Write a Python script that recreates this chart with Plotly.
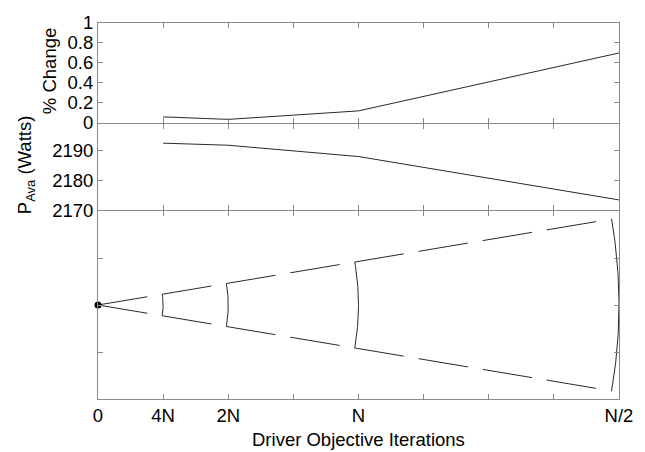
import numpy as np
import plotly.graph_objects as go

# Iteration checkpoints on the shared x axis (0 .. 8 tick slots)
tick_pos = [0, 1, 2, 3, 4, 5, 6, 7, 8]
tick_text = ["0", "4N", "2N", "", "N", "", "", "", "N/2"]

iter_pos = [1, 2, 4, 8]            # 4N, 2N, N, N/2
pct_change = [0.06, 0.035, 0.12, 0.70]
p_ava = [2192.5, 2191.8, 2188.0, 2173.4]

# Search-cone sketch: arc radii follow the iteration checkpoints
cone_radii = [1, 2, 4, 8]
cone_half_angle_deg = 9.7

W, H = 645, 452
M = dict(l=98, r=26, t=15, b=53)
plot_w = W - M["l"] - M["r"]
plot_h = H - M["t"] - M["b"]          # 384 px
h_bot, h_mid = 193, 89                # panel heights in px
gap = 1.0 / plot_h                    # lets neighbouring frame lines share one pixel row
dom_bot = [0.0, h_bot / plot_h - gap]
dom_mid = [h_bot / plot_h, (h_bot + h_mid) / plot_h - gap]
dom_top = [(h_bot + h_mid) / plot_h, 1.0]
bot_yrange = [-2, 2]

# keep the cone circular on screen
px_x = plot_w / 8.0
px_y = (dom_bot[1] - dom_bot[0]) * plot_h / (bot_yrange[1] - bot_yrange[0])
k = px_x / px_y

FONT = "Liberation Sans, Arial, sans-serif"
AX = "#8a8a8a"
LINE = "#2a2a2a"

fig = go.Figure()

fig.add_trace(go.Scatter(x=iter_pos, y=pct_change, mode="lines",
                         line=dict(color=LINE, width=1), xaxis="x3", yaxis="y3"))
fig.add_trace(go.Scatter(x=iter_pos, y=p_ava, mode="lines",
                         line=dict(color=LINE, width=1), xaxis="x2", yaxis="y2"))

th = np.deg2rad(cone_half_angle_deg)
r_max = max(cone_radii)
for s in (1, -1):
    fig.add_trace(go.Scatter(x=[0, r_max * np.cos(th)], y=[0, s * r_max * np.sin(th) * k],
                             mode="lines", line=dict(color=LINE, width=1, dash="50px,15px"),
                             xaxis="x", yaxis="y"))
phi = np.linspace(-th, th, 60)
for r in cone_radii:
    fig.add_trace(go.Scatter(x=r * np.cos(phi), y=r * np.sin(phi) * k, mode="lines",
                             line=dict(color=LINE, width=1), xaxis="x", yaxis="y"))
fig.add_trace(go.Scatter(x=[0], y=[0], mode="markers",
                         marker=dict(color="black", size=7), xaxis="x", yaxis="y",
                         cliponaxis=False))

common = dict(showline=True, linecolor=AX, linewidth=1, mirror="allticks",
              ticks="inside", ticklen=5, tickcolor=AX, showgrid=False, zeroline=False,
              tickfont=dict(family=FONT, size=18.5, color="black"))

fig.update_layout(
    width=W, height=H, margin=M, showlegend=False,
    paper_bgcolor="white", plot_bgcolor="white",
    font=dict(family=FONT, size=18.5, color="black"),
    xaxis=dict(domain=[0, 1], range=[0, 8], tickvals=tick_pos, ticktext=tick_text,
               anchor="y", **common),
    yaxis=dict(domain=dom_bot, range=bot_yrange, tickvals=[-1, 0, 1],
               showticklabels=False, anchor="x", **common),
    xaxis2=dict(domain=[0, 1], range=[0, 8], tickvals=tick_pos, showticklabels=False,
                anchor="y2", matches="x", **common),
    yaxis2=dict(domain=dom_mid, range=[2170, 2199], tickvals=[2170, 2180, 2190],
                anchor="x2", **common),
    xaxis3=dict(domain=[0, 1], range=[0, 8], tickvals=tick_pos, showticklabels=False,
                anchor="y3", matches="x", **common),
    yaxis3=dict(domain=dom_top, range=[0, 1], tickvals=[0, 0.2, 0.4, 0.6, 0.8, 1],
                ticktext=["0", "0.2", "0.4", "0.6", "0.8", "1"], anchor="x3", **common),
    annotations=[
        dict(text="% Change", textangle=-90, xref="paper", yref="paper",
             x=0, xshift=-49, y=0.872, xanchor="center", yanchor="middle",
             showarrow=False, font=dict(family=FONT, size=18.5)),
        dict(text="P<sub>Ava</sub> (Watts)", textangle=-90, xref="paper", yref="paper",
             x=0, xshift=-72, y=0.622, xanchor="center", yanchor="middle",
             showarrow=False, font=dict(family=FONT, size=18.5)),
        dict(text="Driver Objective Iterations", xref="paper", yref="paper",
             x=0.5, y=-0.107, xanchor="center", yanchor="middle",
             showarrow=False, font=dict(family=FONT, size=18.5)),
    ],
)

fig.write_html("out.html")
